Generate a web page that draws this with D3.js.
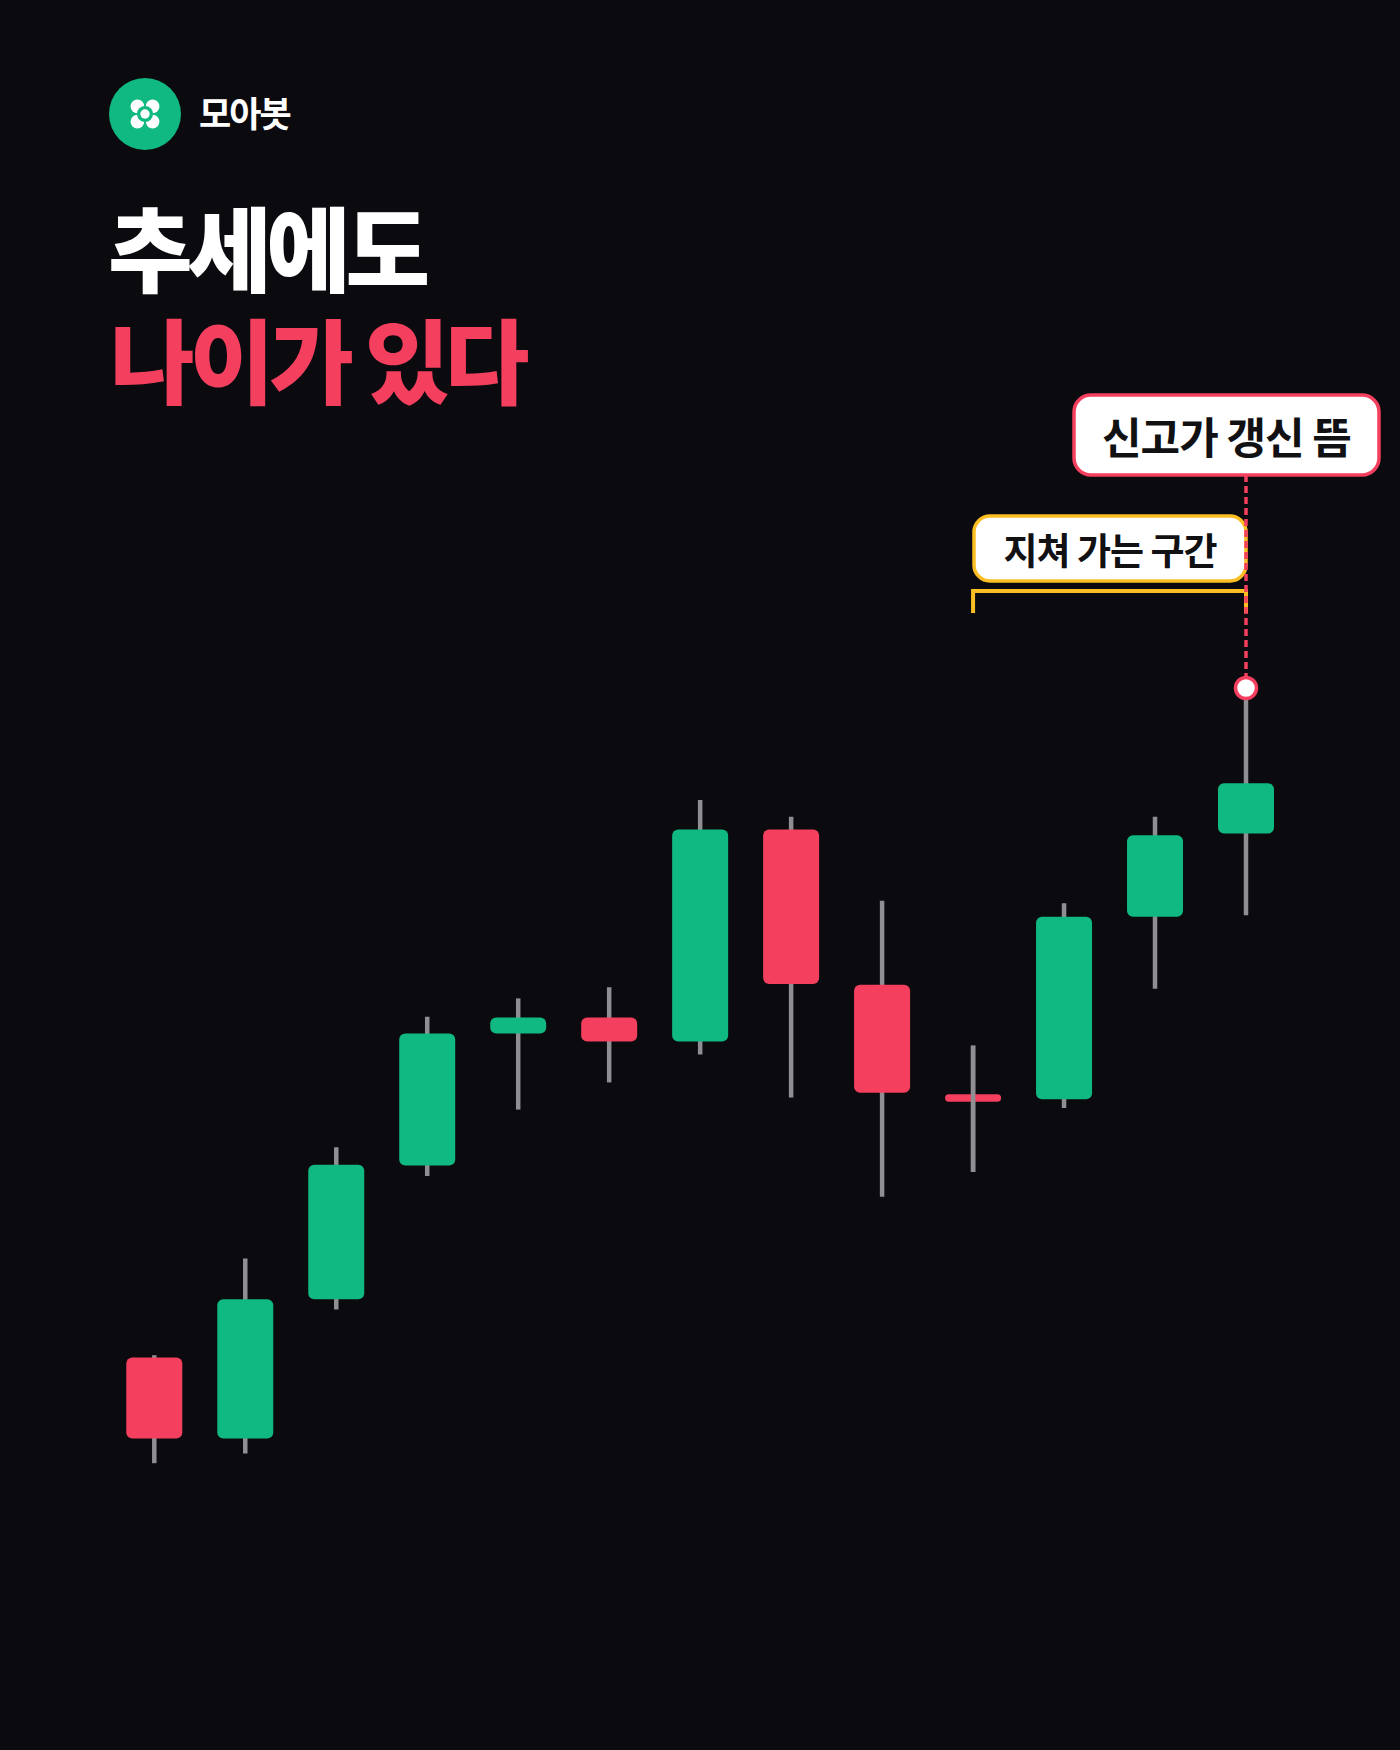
<!DOCTYPE html>
<html>
<head>
<meta charset="utf-8">
<script src="https://cdn.jsdelivr.net/npm/d3@7/dist/d3.min.js"></script>
<style>
  html, body { margin: 0; padding: 0; background: #0A0A0F; }
  svg { display: block; }
  text { font-family: "Noto Sans CJK KR", "Noto Sans", sans-serif; }
</style>
</head>
<body>
<svg id="chart" width="1400" height="1750"></svg>
<script>
// ---- data ----
const candleIndex = [1, 2, 3, 4, 5, 6, 7, 8, 9, 10, 11, 12, 13];
const openValues  = [15.3, 5.2, 22.6, 39.3, 55.8, 57.8, 54.8, 81.3, 61.9, 48.2, 47.6, 70.4, 80.8];
const highValues  = [15.6, 27.7, 41.6, 57.9, 60.2, 61.6, 85.0, 82.9, 72.4, 54.3, 72.1, 82.9, 99.0];
const lowValues   = [2.1, 3.3, 21.3, 38.0, 46.3, 49.7, 53.2, 47.8, 35.4, 38.5, 46.5, 61.4, 70.6];
const closeValues = [5.2, 22.6, 39.4, 55.8, 57.8, 54.8, 81.3, 62.0, 48.4, 47.3, 70.4, 80.6, 87.1];

const brandName = "모아봇";
const titleLine1 = "추세에도";
const titleLine2 = "나이가 있다";
const highLabel = "신고가 갱신 뜸";
const zoneLabel = "지쳐 가는 구간";
const zoneStart = 10;   // candle index where tiring zone starts
const zoneEnd = 13;     // candle index where tiring zone ends (new high)

const candles = candleIndex.map((d, i) => ({
  idx: d, open: openValues[i], high: highValues[i], low: lowValues[i], close: closeValues[i]
}));

// ---- colors ----
const BG = "#0A0A0F", GREEN = "#10B981", RED = "#F43F5E", WICK = "#8E8E93",
      YELLOW = "#FBBF24", WHITE = "#FFFFFF", INK = "#111114";

const svg = d3.select("#chart");
svg.append("rect").attr("width", 1400).attr("height", 1750).attr("fill", BG);

// ---- scales ----
const x = d3.scalePoint().domain(candleIndex).range([154.3, 1246]);
const y = d3.scaleLinear().domain([0, 100]).range([1480, 680]);
const bodyW = 56;

// ---- header ----
const logo = svg.append("g").attr("transform", "translate(145,114)");
logo.append("circle").attr("r", 36).attr("fill", GREEN);
[[-1,-1],[1,-1],[-1,1],[1,1]].forEach(([sx, sy]) => {
  logo.append("circle").attr("cx", sx * 7.6).attr("cy", sy * 7.6).attr("r", 6.8).attr("fill", WHITE);
});
logo.append("circle").attr("r", 8).attr("fill", GREEN);
logo.append("circle").attr("r", 4.7).attr("fill", WHITE);

svg.append("text").attr("x", 199).attr("y", 127)
  .attr("font-size", 35).attr("font-weight", 700).attr("fill", WHITE)
  .style("letter-spacing", "-2px").text(brandName);

svg.append("text").attr("x", 108).attr("y", 285)
  .attr("font-size", 92).attr("font-weight", 900).attr("fill", WHITE)
  .style("letter-spacing", "-5.5px").text(titleLine1);
svg.append("text").attr("x", 110).attr("y", 397)
  .attr("font-size", 92).attr("font-weight", 900).attr("fill", RED)
  .style("letter-spacing", "-5px").text(titleLine2);

// ---- candles ----
const bodyH = d => Math.max(7.5, Math.abs(y(d.open) - y(d.close)));
const g = svg.append("g");
const c = g.selectAll("g.candle").data(candles).enter().append("g").attr("class", "candle");
const wick = sel => sel.append("line")
  .attr("x1", d => x(d.idx)).attr("x2", d => x(d.idx))
  .attr("y1", d => y(d.high)).attr("y2", d => y(d.low))
  .attr("stroke", WICK).attr("stroke-width", 4.5);
wick(c);
c.append("rect")
  .attr("x", d => x(d.idx) - bodyW / 2)
  .attr("width", bodyW)
  .attr("y", d => (y(d.open) + y(d.close)) / 2 - bodyH(d) / 2)
  .attr("height", bodyH)
  .attr("rx", d => Math.min(6, bodyH(d) / 2))
  .attr("fill", d => d.close >= d.open ? GREEN : RED);
// doji: wick drawn over its thin body
wick(c.filter(d => Math.abs(y(d.open) - y(d.close)) < 10));

// ---- annotations ----
const last = candles.find(d => d.idx === zoneEnd);
const hx = x(zoneEnd), hy = y(last.high);
const zx0 = x(zoneStart), zx1 = x(zoneEnd);

// yellow bracket
const bracketY = 591, legY = 613;
svg.append("path")
  .attr("d", `M${zx0},${legY} L${zx0},${bracketY} L${zx1},${bracketY} L${zx1},${legY}`)
  .attr("fill", "none").attr("stroke", YELLOW).attr("stroke-width", 4);

// yellow box
const yb = {x0: 974, x1: zx1, y0: 516, y1: 581};
svg.append("rect").attr("x", yb.x0).attr("y", yb.y0)
  .attr("width", yb.x1 - yb.x0).attr("height", yb.y1 - yb.y0)
  .attr("rx", 16).attr("fill", WHITE).attr("stroke", YELLOW).attr("stroke-width", 3.5);
svg.append("text").attr("x", (yb.x0 + yb.x1) / 2).attr("y", (yb.y0 + yb.y1) / 2)
  .attr("text-anchor", "middle").attr("dominant-baseline", "central")
  .attr("font-size", 37).attr("font-weight", 700).attr("fill", INK)
  .style("letter-spacing", "-1px").text(zoneLabel);

// red dashed line
const rb = {x0: 1074, x1: 1379, y0: 395, y1: 475};
svg.append("line").attr("x1", hx).attr("x2", hx)
  .attr("y1", rb.y1).attr("y2", hy - 10)
  .attr("stroke", RED).attr("stroke-width", 3.5).attr("stroke-dasharray", "7 4");

// red box
svg.append("rect").attr("x", rb.x0).attr("y", rb.y0)
  .attr("width", rb.x1 - rb.x0).attr("height", rb.y1 - rb.y0)
  .attr("rx", 17).attr("fill", WHITE).attr("stroke", RED).attr("stroke-width", 3.5);
svg.append("text").attr("x", (rb.x0 + rb.x1) / 2).attr("y", (rb.y0 + rb.y1) / 2)
  .attr("text-anchor", "middle").attr("dominant-baseline", "central")
  .attr("font-size", 43).attr("font-weight", 700).attr("fill", INK)
  .style("letter-spacing", "-1px").text(highLabel);

// high marker
svg.append("circle").attr("cx", hx).attr("cy", hy).attr("r", 10.5)
  .attr("fill", WHITE).attr("stroke", RED).attr("stroke-width", 3.5);
</script>
</body>
</html>
